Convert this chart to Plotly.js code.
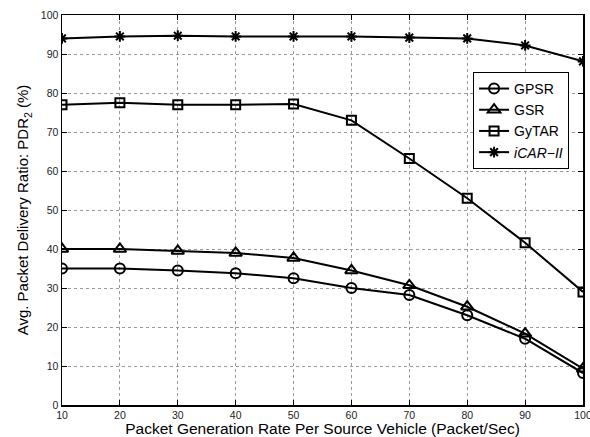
<!DOCTYPE html>
<html><head><meta charset="utf-8">
<script src="https://cdn.plot.ly/plotly-3.0.1.min.js"></script>
<style>body{margin:0;background:#fff}#c{width:590px;height:437px}</style>
</head><body><div id="c"></div>
<script>
const rates = [10,20,30,40,50,60,70,80,90,100];
const gpsr  = [35,35,34.5,33.8,32.5,30,28.2,23,17,8.2];
const gsr   = [40,40,39.5,39,37.7,34.5,30.7,25.2,18.3,9.3];
const gytar = [77,77.5,77,77,77.2,73,63.2,53,41.6,29];
const icar  = [94,94.5,94.7,94.5,94.5,94.5,94.2,94,92.2,88.1];
const names = ['GPSR','GSR','GyTAR','<i>iCAR\u2212II</i>'];
const xTicks = [10,20,30,40,50,60,70,80,90,100];
const yTicks = [0,10,20,30,40,50,60,70,80,90,100];

function tr(y, name, sym, size){
  return {x: rates, y: y, name: name, type:'scatter', mode:'lines+markers',
    line:{color:'#000', width:2},
    marker:{symbol:sym, size:size, color:'#000', line:{color:'#000', width:2}}};
}
const data = [
  tr(gpsr, names[0], 'circle-open', 10),
  tr(gsr, names[1], 'triangle-up-open', 11),
  tr(gytar, names[2], 'square-open', 9),
  tr(icar, names[3], 'asterisk-open', 9)
];
const ax = {showline:true, mirror:'ticks', linecolor:'#000', linewidth:1.5,
  ticks:'inside', ticklen:5, tickcolor:'#000', showgrid:true, gridcolor:'#999',
  griddash:'dot', gridwidth:1, zeroline:false, ticklabeloverflow:'allow',
  tickfont:{family:'Liberation Sans, Arial', size:10.5, color:'#222'}};
const layout = {
  width:590, height:437, margin:{l:62, r:7, t:15, b:32},
  paper_bgcolor:'#fff', plot_bgcolor:'#fff',
  font:{family:'Liberation Sans, Arial', color:'#000'},
  xaxis:Object.assign({}, ax, {range:[10,100], tickvals:xTicks,
    title:{text:'Packet Generation Rate Per Source Vehicle (Packet/Sec)', font:{size:15.5}, standoff:1}}),
  yaxis:Object.assign({}, ax, {range:[0,100], tickvals:yTicks,
    title:{text:'Avg. Packet Delivery Ratio: PDR<sub>2</sub> (%)', font:{size:15}, standoff:8}}),
  showlegend:true,
  legend:{x:0.789, y:0.854, xanchor:'left', yanchor:'top', bgcolor:'#fff',
    bordercolor:'#000', borderwidth:1, font:{size:14, family:'Liberation Sans, Arial'},
    tracegroupgap:0, itemwidth:30}
};
Plotly.newPlot('c', data, layout, {staticPlot:true});
</script></body></html>
